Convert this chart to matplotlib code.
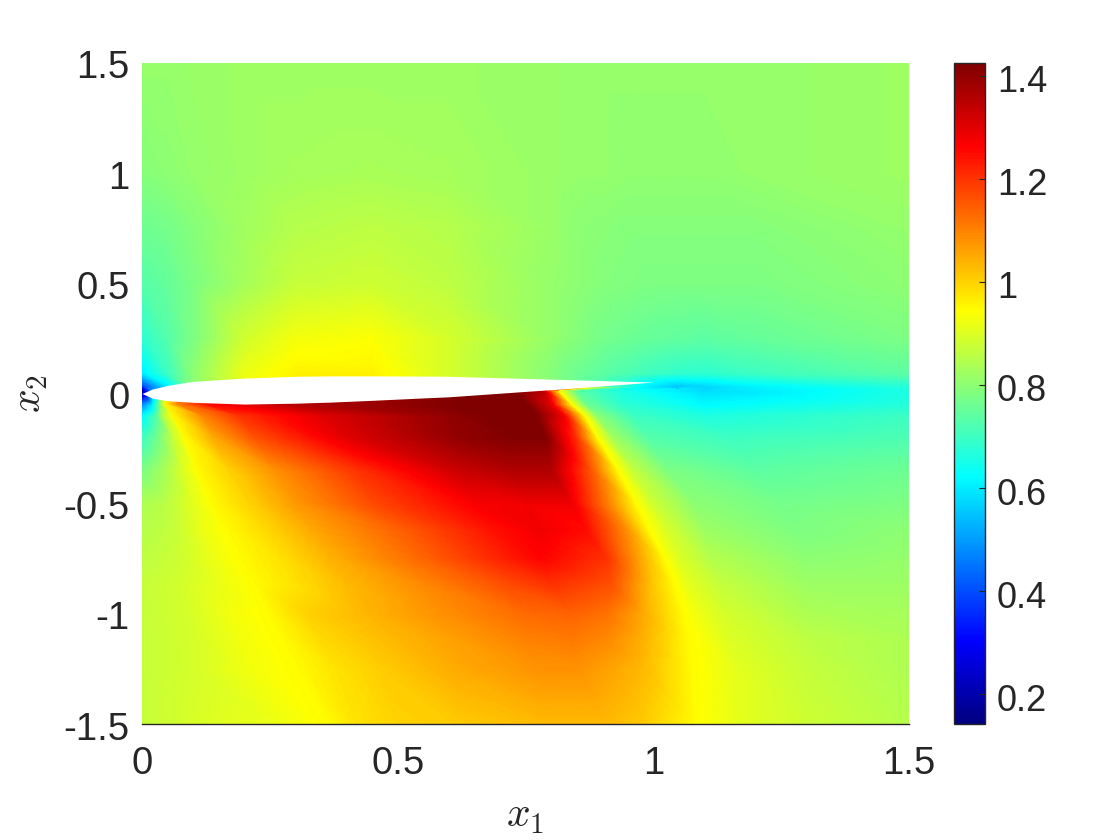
import numpy as np
import matplotlib
matplotlib.use("Agg")
import matplotlib.pyplot as plt
import matplotlib.tri as mtri
from matplotlib.cm import ScalarMappable
from matplotlib.colors import LinearSegmentedColormap, Normalize
from matplotlib.transforms import ScaledTranslation

plt.rcParams['font.family'] = ['Liberation Sans', 'DejaVu Sans']
plt.rcParams['mathtext.fontset'] = 'cm'

W, H = 1120, 840
TXT = '#262626'

# Field: rows of stations (x) and values, one pair per x2
x_upper = [0, .05, .1, .2, .3, .45, .6, .8, .85, .9, .95, 1, 1.05, 1.1, 1.2, 1.5]
rows_y = [1.5, 1, .75, .5, .25, .09, .03, .012, -.05, -.1, -.2, -.35, -.5, -.62, -.75, -.87, -1, -1.12, -1.25, -1.5]
rows_x = [
    x_upper, x_upper, x_upper, x_upper, x_upper, x_upper, x_upper,
    [0, .02, .03, .04, .06, .12, .3, .5, .65, .73, .785, .815, .85, .95, 1.1, 1.5],
    [0, .02, .035, .045, .07, .13, .3, .55, .68, .75, .8, .84, .87, .94, 1.1, 1.5],
    [0, .025, .04, .06, .12, .19, .35, .6, .7, .77, .825, .865, .89, .96, 1.1, 1.5],
    [0, .03, .06, .085, .14, .22, .4, .62, .72, .79, .85, .89, .92, .99, 1.15, 1.5],
    [0, .04, .08, .11, .17, .26, .42, .62, .72, .8, .88, .93, .96, 1.03, 1.2, 1.5],
    [0, .05, .1, .14, .21, .3, .45, .65, .75, .84, .92, .965, 1.0, 1.08, 1.25, 1.5],
    [0, .06, .12, .17, .24, .33, .5, .68, .78, .87, .95, .99, 1.03, 1.1, 1.28, 1.5],
    [0, .07, .14, .197, .27, .37, .52, .7, .78, .91, .99, 1.02, 1.05, 1.11, 1.3, 1.5],
    [0, .08, .16, .225, .3, .4, .55, .72, .8, .92, 1.0, 1.04, 1.07, 1.13, 1.3, 1.5],
    [0, .09, .18, .25, .32, .42, .58, .75, .84, .91, .98, 1.056, 1.08, 1.14, 1.3, 1.5],
    [0, .1, .2, .28, .35, .45, .6, .75, .84, .91, .98, 1.066, 1.09, 1.15, 1.3, 1.5],
    [0, .1, .22, .31, .38, .48, .62, .78, .85, .91, .98, 1.072, 1.1, 1.16, 1.3, 1.5],
    [0, .13, .26, .37, .42, .5, .62, .78, .85, .91, .98, 1.078, 1.1, 1.17, 1.3, 1.5],
]
rows_v = [
    [.81, .81, .815, .82, .82, .82, .82, .815, .81, .81, .81, .81, .81, .81, .81, .82],
    [.79, .80, .81, .82, .83, .835, .83, .815, .81, .81, .805, .805, .805, .805, .81, .82],
    [.76, .77, .79, .825, .85, .86, .85, .815, .80, .795, .79, .79, .79, .79, .79, .81],
    [.73, .75, .78, .83, .87, .88, .86, .81, .80, .79, .785, .78, .78, .78, .78, .80],
    [.68, .73, .78, .885, .93, .94, .89, .81, .79, .77, .76, .75, .745, .74, .75, .78],
    [.6, .7, .8, .92, .96, .96, .89, .79, .76, .74, .72, .70, .685, .68, .70, .74],
    [.38, .6, .8, .92, .96, .96, .89, .8, .76, .72, .66, .59, .55, .57, .61, .67],
    [.15, .5, .7, .9, 1.1, 1.2, 1.35, 1.4, 1.42, 1.43, 1.35, .95, .74, .65, .58, .66],
    [.48, .6, .8, .95, 1.1, 1.25, 1.36, 1.41, 1.43, 1.43, 1.3, .95, .76, .68, .62, .67],
    [.62, .72, .85, .95, 1.1, 1.2, 1.3, 1.4, 1.43, 1.43, 1.28, .95, .8, .7, .66, .70],
    [.7, .77, .87, .95, 1.05, 1.16, 1.3, 1.4, 1.42, 1.42, 1.2, .95, .83, .73, .70, .72],
    [.78, .83, .9, .95, 1.0, 1.08, 1.2, 1.33, 1.36, 1.36, 1.15, .95, .87, .78, .74, .76],
    [.84, .86, .91, .95, 1.0, 1.07, 1.17, 1.27, 1.28, 1.28, 1.08, .95, .88, .8, .77, .78],
    [.85, .87, .92, .95, .99, 1.05, 1.14, 1.24, 1.28, 1.25, 1.08, .95, .89, .82, .78, .8],
    [.86, .88, .92, .95, .98, 1.04, 1.12, 1.22, 1.26, 1.2, 1.02, .95, .9, .85, .8, .81],
    [.87, .89, .92, .95, .98, 1.03, 1.09, 1.17, 1.2, 1.16, 1.01, .95, .91, .87, .82, .82],
    [.87, .89, .93, .95, 1.0, 1.03, 1.08, 1.13, 1.14, 1.12, 1.05, .95, .93, .89, .84, .83],
    [.87, .89, .93, .95, .99, 1.02, 1.06, 1.1, 1.11, 1.09, 1.04, .95, .94, .9, .86, .84],
    [.87, .89, .93, .95, .98, 1.01, 1.05, 1.08, 1.08, 1.06, 1.03, .95, .94, .91, .87, .84],
    [.87, .9, .92, .95, .98, 1.0, 1.01, 1.03, 1.03, 1.03, 1.01, .95, .94, .91, .88, .85],
]
# Airfoil outline
foil_x = [0, .02, .05, .1, .2, .3, .37, .45, .56, .6, .79, .8, 1.0]
foil_up = [0, .02, .037, .055, .07, .078, .08, .08, .079, .078, .066, .065, .052]
foil_lo = [0, -.021, -.033, -.04, -.048, -.044, -.039, -.031, -.019, -.015, .016, .017, .052]

vmin, vmax = 0.142, 1.425
x_ticks = [0, .5, 1, 1.5]
x_labels = ['0', '0.5', '1', '1.5']
y_ticks = [-1.5, -1, -.5, 0, .5, 1, 1.5]
y_labels = ['-1.5', '-1', '-0.5', '0', '0.5', '1', '1.5']
c_ticks = [.2, .4, .6, .8, 1, 1.2, 1.4]
c_labels = ['0.2', '0.4', '0.6', '0.8', '1', '1.2', '1.4']

# MATLAB-style jet
jet_matlab = LinearSegmentedColormap('jet_matlab', {
    'red':   [(0, 0, 0), (.375, 0, 0), (.625, 1, 1), (.875, 1, 1), (1, .5, .5)],
    'green': [(0, 0, 0), (.125, 0, 0), (.375, 1, 1), (.625, 1, 1), (.875, 0, 0), (1, 0, 0)],
    'blue':  [(0, .5, .5), (.125, 1, 1), (.375, 1, 1), (.625, 0, 0), (1, 0, 0)],
}, N=256)
norm = Normalize(vmin, vmax)

fig = plt.figure(figsize=(W / 100, H / 100), dpi=100)
ax = fig.add_axes([142 / W, (H - 724) / H, 767 / W, 661 / H])

X = np.array(rows_x, dtype=float)
Y = np.repeat(np.array(rows_y)[:, None], X.shape[1], axis=1)
V = np.array(rows_v, dtype=float)
nr, nc = X.shape
idx = np.arange(nr * nc).reshape(nr, nc)
a, b, c, d = idx[:-1, :-1].ravel(), idx[:-1, 1:].ravel(), idx[1:, 1:].ravel(), idx[1:, :-1].ravel()
tri = mtri.Triangulation(X.ravel(), Y.ravel(),
                         np.concatenate([np.c_[a, b, c], np.c_[a, c, d]]))
# Refining lets the colormap be applied per small facet, so colours stay true to jet
fine, fine_v = mtri.UniformTriRefiner(tri).refine_field(
    V.ravel(), triinterpolator=mtri.LinearTriInterpolator(tri, V.ravel()), subdiv=4)
ax.tripcolor(fine, fine_v, shading='gouraud', cmap=jet_matlab, norm=norm, zorder=1)
ax.fill_between(foil_x, foil_lo, foil_up, color='white', lw=0, zorder=2)

ax.set_xlim(0, 1.5)
ax.set_ylim(-1.5, 1.5)
ax.set_xticks(x_ticks, x_labels)
ax.set_yticks(y_ticks, y_labels)
ax.set_yticks([0], minor=True)
ax.set_xticks([1.5], minor=True)
ax.tick_params(which='major', length=0, labelsize=27.5, labelcolor=TXT)
ax.tick_params(which='major', axis='x', pad=16)
ax.tick_params(which='major', axis='y', pad=9)
ax.tick_params(which='minor', direction='in', length=4.3, width=.8, color=TXT, zorder=5)
for s in ('top', 'left', 'right'):
    ax.spines[s].set_visible(False)
ax.spines['bottom'].set_color(TXT)
ax.spines['bottom'].set_linewidth(1)
ax.spines['bottom'].set_zorder(5)

fig.text(525 / W, 1 - 816 / H, r'$x_1$', fontsize=30, color=TXT, ha='center', va='center')
fig.text(30 / W, 1 - 394 / H, r'$x_2$', fontsize=30, color=TXT, ha='center', va='center', rotation=90)

cax = fig.add_axes([954 / W, (H - 724) / H, 31 / W, 661 / H])
cb = fig.colorbar(ScalarMappable(norm=norm, cmap=jet_matlab), cax=cax)
cb.set_ticks(c_ticks, labels=c_labels)
cb.ax.tick_params(direction='in', length=4.3, width=.8, color=TXT, labelsize=26, labelcolor=TXT, pad=8.5)
cb.outline.set_edgecolor(TXT)
cb.outline.set_linewidth(1)

# Labels sit slightly below their ticks in the reference
for ticks, px in ((ax.yaxis.get_major_ticks(), 1.5), (cb.ax.yaxis.get_major_ticks(), 3)):
    shift = ScaledTranslation(0, -px / 100, fig.dpi_scale_trans)
    for t in ticks:
        t.label1.set_transform(t.label1.get_transform() + shift)
        t.label2.set_transform(t.label2.get_transform() + shift)

fig.savefig('out.png', dpi=100)
